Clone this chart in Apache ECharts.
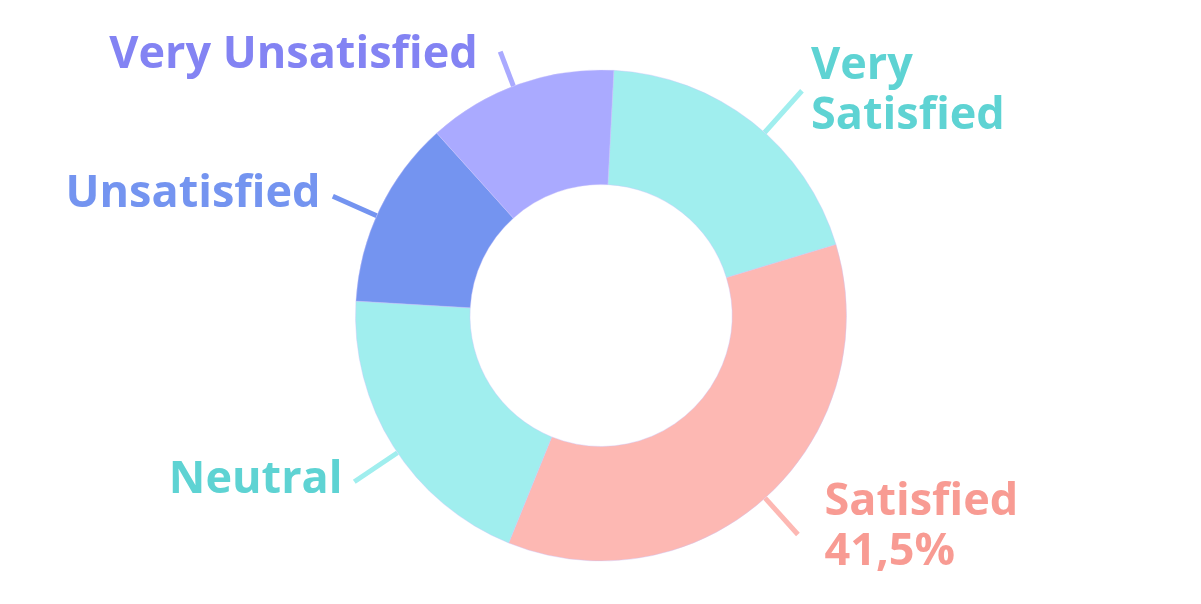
<!DOCTYPE html>
<html>
<head>
<meta charset="utf-8">
<script src="https://cdn.jsdelivr.net/npm/echarts@6/dist/echarts.min.js"></script>
<style>
  html, body { margin: 0; padding: 0; background: #fff; }
  #chart { width: 1201px; height: 604px; }
</style>
</head>
<body>
<div id="chart"></div>
<script>
// slice order is clockwise from the top
const categories = ['Very Satisfied', 'Satisfied', 'Neutral', 'Unsatisfied', 'Very Unsatisfied']
const shares = [19.5, 35.8, 19.8, 12.4, 12.5]
const labelTexts = ['Very\nSatisfied', 'Satisfied\n41,5%', 'Neutral', 'Unsatisfied', 'Very Unsatisfied']

const fillColors = ['#a0eeee', '#fdb8b3', '#a0eeee', '#7494f0', '#aaaaff']
const textColors = ['#5ed3d3', '#f89b93', '#5ed3d3', '#7494f0', '#8383f3']
const lineLengths = [56, 49, 52, 48, 37]
const labelGaps = [24, 25, 7, 16, 29]
// small vertical nudges of the label text
const labelShiftY = [13, -6, 6, 6, 6]
// the connector lines are not quite at the slice middles (degrees, clockwise)
const lineTurn = [3.7, 0.4, -1.7, -1.7, -1.4]

const pieCenter = [601, 315.5]

function turnPoints(points, deg) {
  const a = deg * Math.PI / 180
  const c = Math.cos(a), s = Math.sin(a)
  return points.map(p => {
    const dx = p[0] - pieCenter[0], dy = p[1] - pieCenter[1]
    return [pieCenter[0] + dx * c - dy * s, pieCenter[1] + dx * s + dy * c]
  })
}

const chart = echarts.init(document.getElementById('chart'))

chart.setOption({
  animation: false,
  series: [{
    type: 'pie',
    center: pieCenter,
    radius: [131, 245.5],
    startAngle: 87,
    clockwise: true,
    avoidLabelOverlap: false,
    itemStyle: { borderColor: '#c9c2fb', borderWidth: 0.4 },
    label: {
      show: true,
      position: 'outside',
      fontFamily: 'Open Sans',
      fontWeight: 'bold',
      fontSize: 45,
      lineHeight: 50
    },
    labelLine: {
      show: true,
      length2: 0,
      smooth: false,
      lineStyle: { width: 5, cap: 'butt' }
    },
    labelLayout: params => ({
      dy: labelShiftY[params.dataIndex],
      labelLinePoints: turnPoints(params.labelLinePoints, lineTurn[params.dataIndex])
    }),
    emphasis: { disabled: true },
    data: categories.map((name, i) => ({
      name,
      value: shares[i],
      itemStyle: { color: fillColors[i] },
      label: {
        formatter: labelTexts[i],
        color: textColors[i],
        distanceToLabelLine: labelGaps[i]
      },
      labelLine: {
        length: lineLengths[i],
        lineStyle: { color: fillColors[i] }
      }
    }))
  }]
})
</script>
</body>
</html>
